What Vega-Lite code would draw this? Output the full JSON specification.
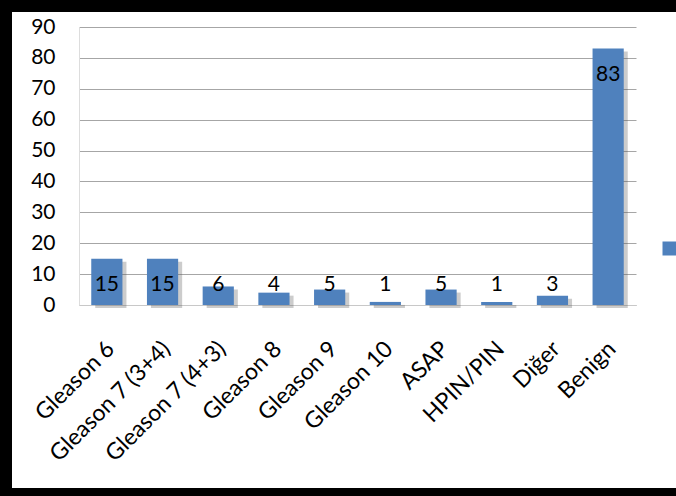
{
  "$schema": "https://vega.github.io/schema/vega-lite/v6.json",
  "width": 700,
  "height": 500,
  "padding": 0,
  "autosize": {"type": "none"},
  "background": "white",
  "config": {
    "view": {"stroke": "black", "strokeWidth": 24, "fill": "white"},
    "font": "Lato"
  },
  "data": {
    "values": [
      {"kategori": "Gleason 6", "deger": 15},
      {"kategori": "Gleason 7 (3+4)", "deger": 15},
      {"kategori": "Gleason 7 (4+3)", "deger": 6},
      {"kategori": "Gleason 8", "deger": 4},
      {"kategori": "Gleason 9", "deger": 5},
      {"kategori": "Gleason 10", "deger": 1},
      {"kategori": "ASAP", "deger": 5},
      {"kategori": "HPIN/PIN", "deger": 1},
      {"kategori": "Diğer", "deger": 3},
      {"kategori": "Benign", "deger": 83}
    ]
  },
  "encoding": {
    "x": {
      "field": "kategori",
      "type": "nominal",
      "sort": null,
      "scale": {"range": [79, 636], "paddingInner": 0.44, "paddingOuter": 0.22},
      "axis": {
        "orient": "bottom",
        "offset": -195,
        "title": null,
        "labelAngle": -45,
        "labelAlign": "right",
        "labelBaseline": "middle",
        "labelPadding": 40,
        "labelOffset": 4,
        "labelFontSize": 23,
        "labelColor": "black",
        "labelFont": "Lato",
        "ticks": false,
        "domainColor": "#C8C8C8",
        "grid": false
      }
    }
  },
  "layer": [
    {
      "mark": {"type": "bar", "color": "#555555", "opacity": 0.3, "xOffset": 4, "yOffset": 3},
      "encoding": {
        "y": {
          "field": "deger",
          "type": "quantitative",
          "scale": {"domain": [0, 90], "range": [305, 27], "nice": false},
          "axis": {
            "orient": "left",
            "offset": -79,
            "title": null,
            "values": [0, 10, 20, 30, 40, 50, 60, 70, 80, 90],
            "labelFontSize": 21,
            "labelColor": "black",
            "labelFont": "Lato",
            "labelPadding": 24,
            "ticks": false,
            "domainColor": "#DDDDDD",
            "gridColor": "#A6A6A6",
            "grid": true
          }
        }
      }
    },
    {
      "mark": {"type": "bar"},
      "encoding": {
        "y": {"field": "deger", "type": "quantitative"},
        "color": {
          "datum": "Seri 1",
          "scale": {"range": ["#4F81BD"]},
          "legend": {
            "orient": "none",
            "legendX": 661,
            "legendY": 240,
            "title": null,
            "symbolType": "square",
            "symbolSize": 196,
            "symbolStrokeWidth": 0,
            "labelExpr": "''",
            "labelFontSize": 17
          }
        }
      }
    },
    {
      "transform": [{"filter": "datum.deger >= 15"}],
      "mark": {"type": "text", "baseline": "middle", "dy": 26, "fontSize": 21, "color": "black"},
      "encoding": {
        "y": {"field": "deger", "type": "quantitative"},
        "text": {"field": "deger", "type": "quantitative"}
      }
    },
    {
      "transform": [{"filter": "datum.deger < 15"}],
      "mark": {"type": "text", "baseline": "middle", "fontSize": 21, "color": "black"},
      "encoding": {
        "y": {"datum": 6.5},
        "text": {"field": "deger", "type": "quantitative"}
      }
    }
  ]
}
